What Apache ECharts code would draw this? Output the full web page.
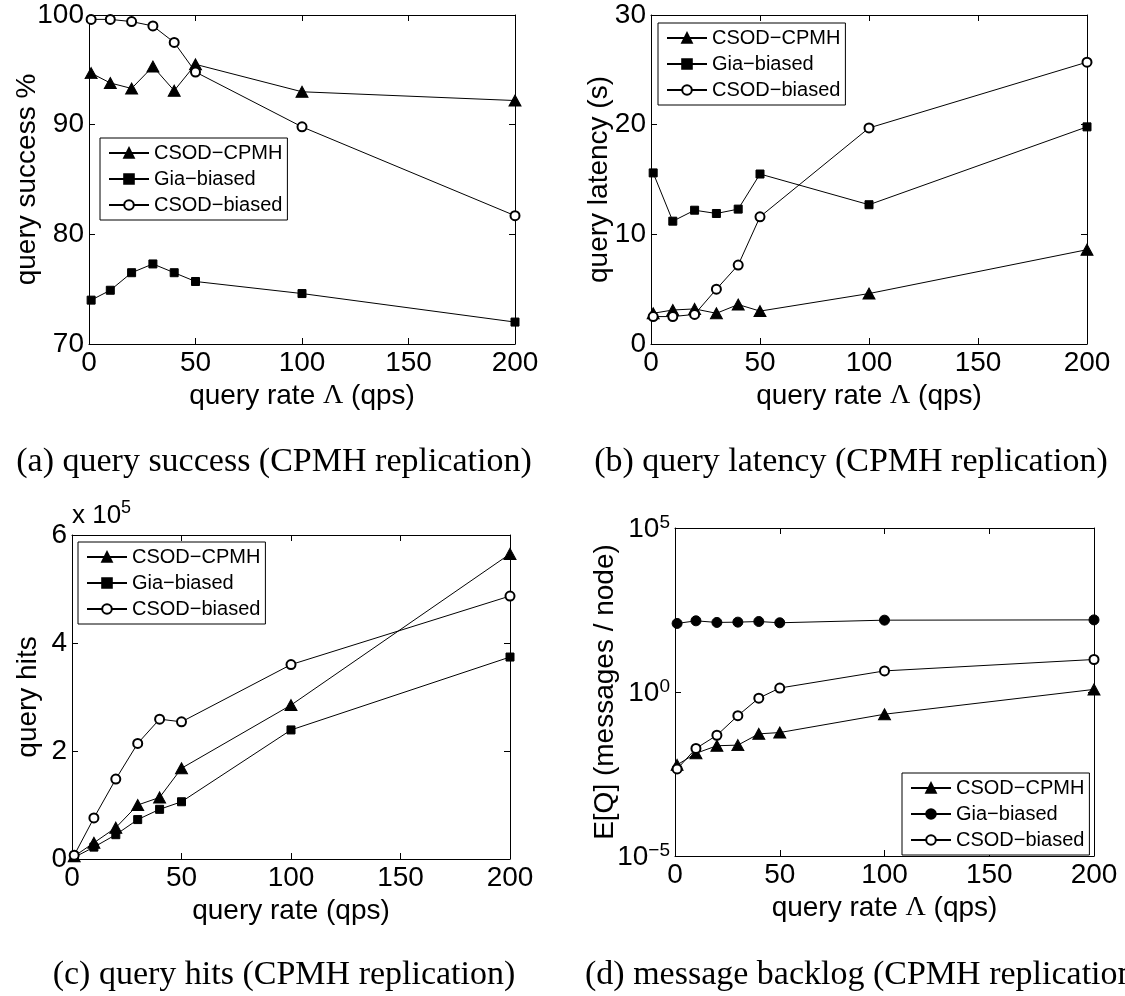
<!DOCTYPE html>
<html><head><meta charset="utf-8">
<script src="https://cdn.jsdelivr.net/npm/echarts@6/dist/echarts.min.js"></script>
<style>
html,body{margin:0;padding:0;background:#fff;width:1125px;height:996px;overflow:hidden}
.p{position:absolute;width:563px;height:498px}
</style></head>
<body>
<div id="pa" class="p" style="left:0;top:0"></div>
<div id="pb" class="p" style="left:562px;top:0"></div>
<div id="pc" class="p" style="left:0;top:498px"></div>
<div id="pd" class="p" style="left:562px;top:498px"></div>
<script>
// ---- data ----
const xRate = [1, 10, 20, 30, 40, 50, 100, 200];
const seriesNames = ['CSOD\u2212CPMH', 'Gia\u2212biased', 'CSOD\u2212biased'];

const successCPMH   = [94.7, 93.8, 93.3, 95.3, 93.1, 95.5, 93.0, 92.2];
const successGia    = [74.0, 74.9, 76.5, 77.3, 76.5, 75.7, 74.6, 72.0];
const successBiased = [99.6, 99.6, 99.4, 99.0, 97.5, 94.8, 89.8, 81.7];

const latencyCPMH   = [2.8, 3.1, 3.2, 2.8, 3.6, 3.0, 4.6, 8.6];
const latencyGia    = [15.6, 11.2, 12.2, 11.9, 12.3, 15.5, 12.7, 19.8];
const latencyBiased = [2.5, 2.5, 2.7, 5.0, 7.2, 11.6, 19.7, 25.7];

const hitsCPMH   = [5000, 30000, 58000, 100000, 114000, 168000, 285000, 565000];
const hitsGia    = [3000, 22000, 45000, 73000, 92000, 106000, 239000, 374000];
const hitsBiased = [7000, 76000, 148000, 214000, 259000, 254000, 360000, 487000];

const queueCPMH   = [0.006, 0.0135, 0.023, 0.024, 0.053, 0.058, 0.21, 1.2];
const queueGia    = [123, 148, 132, 135, 141, 129, 155, 158];
const queueBiased = [0.0045, 0.019, 0.048, 0.19, 0.65, 1.32, 4.4, 9.8];

const captions = [
  '(a) query success (CPMH replication)',
  '(b) query latency (CPMH replication)',
  '(c) query hits (CPMH replication)',
  '(d) message backlog (CPMH replication)'
];

// ---- helpers ----
const SANS = 'Liberation Sans, Arial, Helvetica, sans-serif';
const SERIF = 'Liberation Serif, Times New Roman, serif';
const FS = 28;
const CAP_FS = 34;

function pts(vals) { return xRate.map((x, i) => [x, vals[i]]); }

function mkSeries(name, vals, sym) {
  let size = 9;
  if (sym === 'triangle') size = [12, 11];
  if (sym === 'rect') size = 8;
  if (sym === 'emptyCircle') size = 9;
  if (sym === 'circle') size = 10;
  return {
    type: 'line', name: name, data: pts(vals), symbol: sym, symbolSize: size,
    color: '#000', itemStyle: {color: '#000', borderColor: '#000', borderWidth: 1},
    lineStyle: {color: '#000', width: 1}, showSymbol: true, animation: false,
    emphasis: {disabled: true}
  };
}

function boxAxis(base, pos, showLabel) {
  return Object.assign({}, base, {
    position: pos,
    axisLine: {show: true, onZero: false, lineStyle: {color: '#000', width: 1}},
    axisTick: {show: true, inside: true, length: 6, lineStyle: {color: '#000'}},
    axisLabel: Object.assign({color: '#000', fontFamily: SANS, fontSize: FS, margin: 5}, base.axisLabel || {}, {show: showLabel}),
    splitLine: {show: false},
    name: showLabel ? base.name : ''
  });
}

function build(id, cfg) {
  const chart = echarts.init(document.getElementById(id), null, {renderer: 'canvas'});
  const xBase = {type: 'value', min: 0, max: 200, interval: 50,
    nameLocation: 'middle', nameGap: cfg.xNameGap,
    name: cfg.xName,
    nameTextStyle: {color: '#000', fontFamily: SANS, fontSize: FS,
      rich: {l: {fontFamily: SERIF, fontSize: FS, color: '#000'}}}};
  const yBase = Object.assign({nameLocation: 'middle', nameGap: cfg.yNameGap, name: cfg.yName,
    nameMoveOverlap: false,
    nameTextStyle: {color: '#000', fontFamily: SANS, fontSize: FS}}, cfg.y);
  const opt = {
    animation: false,
    backgroundColor: '#fff',
    grid: Object.assign({containLabel: false, outerBoundsMode: 'none'}, cfg.grid),
    xAxis: [boxAxis(xBase, 'bottom', true), boxAxis(xBase, 'top', false)],
    yAxis: [boxAxis(yBase, 'left', true), boxAxis(yBase, 'right', false)],
    legend: Object.assign({
      orient: 'vertical', backgroundColor: '#fff', borderColor: '#000', borderWidth: 1,
      padding: [5, 5, 5, 8], itemGap: 6, itemWidth: 40, itemHeight: 12, selectedMode: false,
      textStyle: {fontFamily: SANS, fontSize: 20, color: '#000'},
      data: seriesNames
    }, cfg.legend),
    series: cfg.series,
    graphic: [Object.assign({type: 'text', style: {text: cfg.caption, font: CAP_FS + 'px ' + SERIF,
      fill: '#000', textAlign: cfg.capAlign || 'center', textVerticalAlign: 'middle'}}, cfg.capPos)]
      .concat(cfg.extraGraphic || [])
  };
  chart.setOption(opt);
}

// (a)
build('pa', {
  grid: {left: 89, top: 15, width: 426, height: 329},
  xName: 'query rate {l|\u039B} (qps)', xNameGap: 26,
  yName: 'query success %', yNameGap: 48,
  y: {type: 'value', min: 70, max: 100, interval: 10},
  legend: {left: 100, top: 138},
  series: [mkSeries(seriesNames[0], successCPMH, 'triangle'),
           mkSeries(seriesNames[1], successGia, 'rect'),
           mkSeries(seriesNames[2], successBiased, 'emptyCircle')],
  caption: captions[0], capPos: {x: 274, y: 462}
});

// (b)
build('pb', {
  grid: {left: 89, top: 15, width: 436, height: 329},
  xName: 'query rate {l|\u039B} (qps)', xNameGap: 26,
  yName: 'query latency (s)', yNameGap: 38,
  y: {type: 'value', min: 0, max: 30, interval: 10},
  legend: {left: 96, top: 23},
  series: [mkSeries(seriesNames[0], latencyCPMH, 'triangle'),
           mkSeries(seriesNames[1], latencyGia, 'rect'),
           mkSeries(seriesNames[2], latencyBiased, 'emptyCircle')],
  caption: captions[1], capPos: {x: 289, y: 462}
});

// (c)
build('pc', {
  grid: {left: 72, top: 37, width: 438, height: 324},
  xName: 'query rate (qps)', xNameGap: 26,
  yName: 'query hits', yNameGap: 30,
  y: {type: 'value', min: 0, max: 600000, interval: 200000,
      axisLabel: {formatter: v => String(v / 100000)}},
  legend: {left: 78, top: 44},
  series: [mkSeries(seriesNames[0], hitsCPMH, 'triangle'),
           mkSeries(seriesNames[1], hitsGia, 'rect'),
           mkSeries(seriesNames[2], hitsBiased, 'emptyCircle')],
  caption: captions[2], capPos: {x: 284, y: 477},
  extraGraphic: [
    {type: 'text', x: 72, y: 31, style: {text: 'x 10', font: '26px ' + SANS, fill: '#000', textVerticalAlign: 'bottom'}},
    {type: 'text', x: 121, y: 1, style: {text: '5', font: '18px ' + SANS, fill: '#000', textVerticalAlign: 'top'}}
  ]
});

// (d)
build('pd', {
  grid: {left: 113, top: 30, width: 419, height: 328},
  xName: 'query rate {l|\u039B} (qps)', xNameGap: 26,
  yName: 'E[Q] (messages / node)', yNameGap: 56,
  y: {type: 'log', logBase: 10, min: 1e-5, max: 1e5, interval: 5,
      axisLabel: {formatter: v => {
        const e = Math.round(Math.log10(v));
        return '{b|10}{s|' + (e < 0 ? '\u2212' + (-e) : e) + '}';
      }, rich: {
        b: {fontFamily: SANS, fontSize: FS, color: '#000', verticalAlign: 'bottom', lineHeight: 30},
        s: {fontFamily: SANS, fontSize: 19, color: '#000', verticalAlign: 'top', lineHeight: 19}
      }}},
  legend: {left: 340, top: 275},
  series: [mkSeries(seriesNames[0], queueCPMH, 'triangle'),
           mkSeries(seriesNames[1], queueGia, 'circle'),
           mkSeries(seriesNames[2], queueBiased, 'emptyCircle')],
  caption: captions[3], capPos: {x: 23, y: 477}, capAlign: 'left'
});
</script>
</body></html>
